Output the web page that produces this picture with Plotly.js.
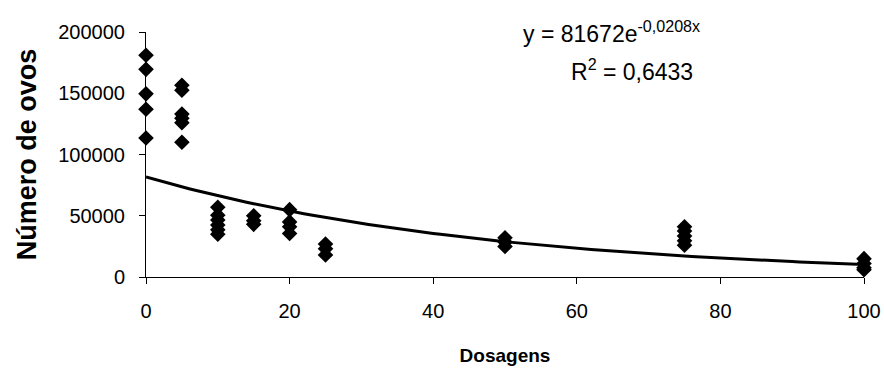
<!DOCTYPE html>
<html>
<head>
<meta charset="utf-8">
<script src="https://cdn.plot.ly/plotly-3.0.1.min.js"></script>
<style>
  html, body { margin: 0; padding: 0; background: #fff; }
  #chart { width: 884px; height: 370px; }
</style>
</head>
<body>
<div id="chart"></div>
<script>
// Egg counts per dose (each dose has several replicates)
const dose0 = [181000, 169500, 149500, 137000, 113500];
const dose5 = [156500, 152500, 133000, 129500, 126000, 110000];
const dose10 = [57000, 50500, 46500, 42500, 38500, 35000];
const dose15 = [50000, 46000, 43000];
const dose20 = [55000, 45000, 41000, 35500];
const dose25 = [27000, 23000, 18000];
const dose50 = [32000, 28500, 25000];
const dose75 = [41000, 37500, 33500, 29500, 26000];
const dose100 = [15000, 11000, 7500, 6000];

const doseLevels = [0, 5, 10, 15, 20, 25, 50, 75, 100];
const eggsByDose = [dose0, dose5, dose10, dose15, dose20, dose25, dose50, dose75, dose100];

// Exponential trend line coefficients, as printed on the chart
const trendA = 81672;
const trendB = -0.0208;
const trendR2 = '0,6433';

const xTicks = [0, 20, 40, 60, 80, 100];
const yTicks = [0, 50000, 100000, 150000, 200000];

const px = [], py = [];
eggsByDose.forEach((vals, i) => vals.forEach(v => { px.push(doseLevels[i]); py.push(v); }));

const tx = [], ty = [];
for (let d = 0; d <= 100; d += 1) { tx.push(d); ty.push(trendA * Math.exp(trendB * d)); }

const font = 'Liberation Sans, Arial, sans-serif';

Plotly.newPlot('chart', [
  {
    x: tx, y: ty, type: 'scatter', mode: 'lines',
    line: { color: '#000', width: 3 }, hoverinfo: 'skip'
  },
  {
    x: px, y: py, type: 'scatter', mode: 'markers',
    marker: { symbol: 'diamond', size: 12, color: '#000' },
    cliponaxis: false
  }
], {
  width: 884, height: 370,
  margin: { l: 146, r: 20, t: 32, b: 93 },
  paper_bgcolor: '#fff', plot_bgcolor: '#fff',
  showlegend: false,
  font: { family: font, color: '#000', size: 20 },
  xaxis: {
    range: [0, 100], tickvals: xTicks, ticktext: xTicks.map(String),
    showgrid: false, zeroline: false, showline: true, linecolor: '#000', linewidth: 1,
    ticks: 'outside', ticklen: 6, tickcolor: '#000', tickwidth: 1,
    ticklabelstandoff: 10,
    tickfont: { family: font, size: 20, color: '#000' },
    title: { text: '<b>Dosagens</b>', font: { family: font, size: 19, color: '#000' }, standoff: 27 }
  },
  yaxis: {
    range: [0, 200000], tickvals: yTicks, ticktext: yTicks.map(String),
    showgrid: false, zeroline: false, showline: true, linecolor: '#000', linewidth: 1,
    ticks: 'outside', ticklen: 6, tickcolor: '#000', tickwidth: 1,
    ticklabelstandoff: 10,
    tickfont: { family: font, size: 20, color: '#000' },
    title: { text: '<b>Número de ovos</b>', font: { family: font, size: 27, color: '#000' }, standoff: 13 }
  },
  annotations: [
    {
      xref: 'paper', yref: 'paper', x: 0.649, y: 1.0, xanchor: 'center', yanchor: 'middle',
      text: 'y = ' + trendA + 'e<sup>' + String(trendB).replace('.', ',') + 'x</sup>',
      showarrow: false, font: { family: font, size: 23, color: '#000' }
    },
    {
      xref: 'paper', yref: 'paper', x: 0.677, y: 0.845, xanchor: 'center', yanchor: 'middle',
      text: 'R<sup>2</sup> = ' + trendR2,
      showarrow: false, font: { family: font, size: 23, color: '#000' }
    }
  ]
}, { displayModeBar: false, staticPlot: true });
</script>
</body>
</html>
